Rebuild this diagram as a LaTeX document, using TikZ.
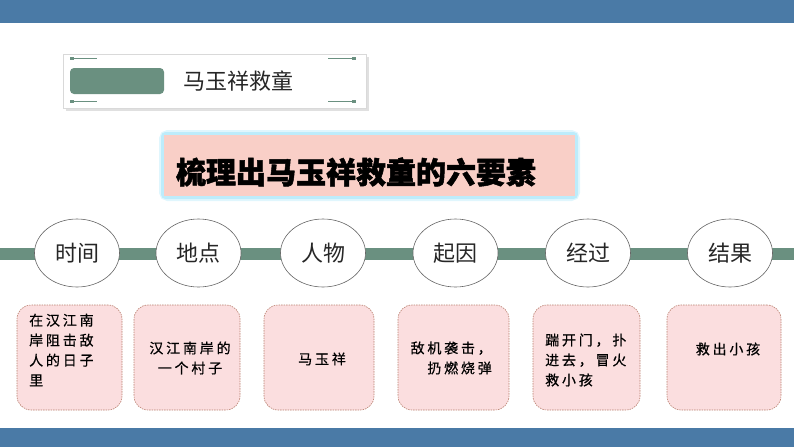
\documentclass[tikz,border=0pt]{standalone}
\usepackage{fontspec}
\newfontfamily\cjk{Noto Sans CJK SC}
\newfontfamily\cjkheavy[BoldFeatures={FakeBold=1.6}]{Noto Sans CJK SC}
\newfontfamily\cjkbox[LetterSpace=20,FakeBold=0.6]{Noto Sans CJK SC}
\usetikzlibrary{shapes.geometric}
\definecolor{barblue}{HTML}{4A7AA6}
\definecolor{sage}{HTML}{6A9080}
\definecolor{titlepink}{HTML}{F9CFC7}
\definecolor{glowcyan}{HTML}{A6E6FA}
\definecolor{cardfill}{HTML}{FBDEDF}
\definecolor{cardline}{HTML}{B9806F}
\tikzset{
  bar/.style={fill=barblue},
  hdrbox/.style={draw=black!15, fill=white, minimum width=303pt, minimum height=54pt, inner sep=0pt},
  tag/.style={fill=sage, rounded corners=4pt, minimum width=94pt, minimum height=26pt, inner sep=0pt},
  bracket/.style={draw=sage, line width=0.8pt},
  bracketend/.style={fill=sage},
  elem/.style={ellipse, draw=black!60, line width=0.6pt, fill=white, minimum width=85pt, minimum height=68pt, inner sep=0pt, text=black!85, font=\cjk\fontsize{22}{22}\selectfont},
  card/.style={draw=cardline, line width=0.6pt, dash pattern=on 1.5pt off 1pt, fill=cardfill, rounded corners=14pt, minimum height=105pt, inner sep=0pt},
  cardtext/.style={inner sep=0pt, font=\cjkbox\fontsize{14}{20}\selectfont, text=black},
}
\begin{document}
\begin{tikzpicture}[x=1pt,y=-1pt]
\useasboundingbox (0,0) rectangle (794,447);
% bars
\fill[bar] (0,0) rectangle (794,23);
\fill[bar] (0,428) rectangle (794,447);
% header
\fill[black!12] (65.5,56.5) rectangle (368.5,110.5);
\node[hdrbox] (hdr) at (214.5,81) {};
\node[tag] (tag) at (117,81) {};
\node[inner sep=0pt, font=\cjk\fontsize{22}{22}\selectfont, text=black!85] (hdrtext) at (238,81) {马玉祥救童};
\draw[bracket] (70,58) -- (97,58);
\draw[bracket] (70,101) -- (97,101);
\draw[bracket] (328,58) -- (356,58);
\draw[bracket] (328,101) -- (356,101);
\fill[bracketend] (70,56.8) rectangle (74,59.5);
\fill[bracketend] (70,99.8) rectangle (74,102.5);
\fill[bracketend] (352,56.8) rectangle (356,59.5);
\fill[bracketend] (352,99.8) rectangle (356,102.5);
% title with glow
\draw[glowcyan, opacity=0.35, line width=10pt, rounded corners=4pt] (164,135) rectangle (575,196);
\draw[glowcyan, opacity=0.6, line width=6pt, rounded corners=2pt] (164,135) rectangle (575,196);
\node[fill=titlepink, minimum width=411pt, minimum height=61pt, inner sep=0pt] (title) at (369.5,165.5) {};
\node[inner sep=0pt, font=\cjkheavy\bfseries\fontsize{30}{30}\selectfont, text=black] (titletext) at (356,172) {梳理出马玉祥救童的六要素};
% timeline
\coordinate (L) at (0,254);
\coordinate (R) at (794,254);
\draw[sage, line width=12pt] (L) -- (R);
\node[elem] (e1) at (77,253) {时间};
\node[elem] (e2) at (198.5,253) {地点};
\node[elem] (e3) at (323,253) {人物};
\node[elem] (e4) at (455.5,253) {起因};
\node[elem] (e5) at (588,253) {经过};
\node[elem] (e6) at (730,253) {结果};
% cards
\node[card, minimum width=105pt] (c1) at (69.5,357.5) {};
\node[card, minimum width=106pt] (c2) at (187,357.5) {};
\node[card, minimum width=110pt] (c3) at (319,357.5) {};
\node[card, minimum width=111pt] (c4) at (453.5,357.5) {};
\node[card, minimum width=107pt] (c5) at (586.5,357.5) {};
\node[card, minimum width=114pt] (c6) at (724,357.5) {};
\node[cardtext, align=left, anchor=west] (t1) at (29,350) {在汉江南\\岸阻击敌\\人的日子\\里};
\node[cardtext, align=center] (t2) at (190,358) {汉江南岸的\\一个村子};
\node[cardtext, align=center] (t3) at (322,359) {马玉祥};
\node[cardtext, align=right, anchor=east] (t4) at (492,358) {敌机袭击，\\扔燃烧弹};
\node[cardtext, align=left, anchor=west] (t5) at (545,360) {踹开门，扑\\进去，冒火\\救小孩};
\node[cardtext, align=center] (t6) at (728,349) {救出小孩};
\end{tikzpicture}
\end{document}
